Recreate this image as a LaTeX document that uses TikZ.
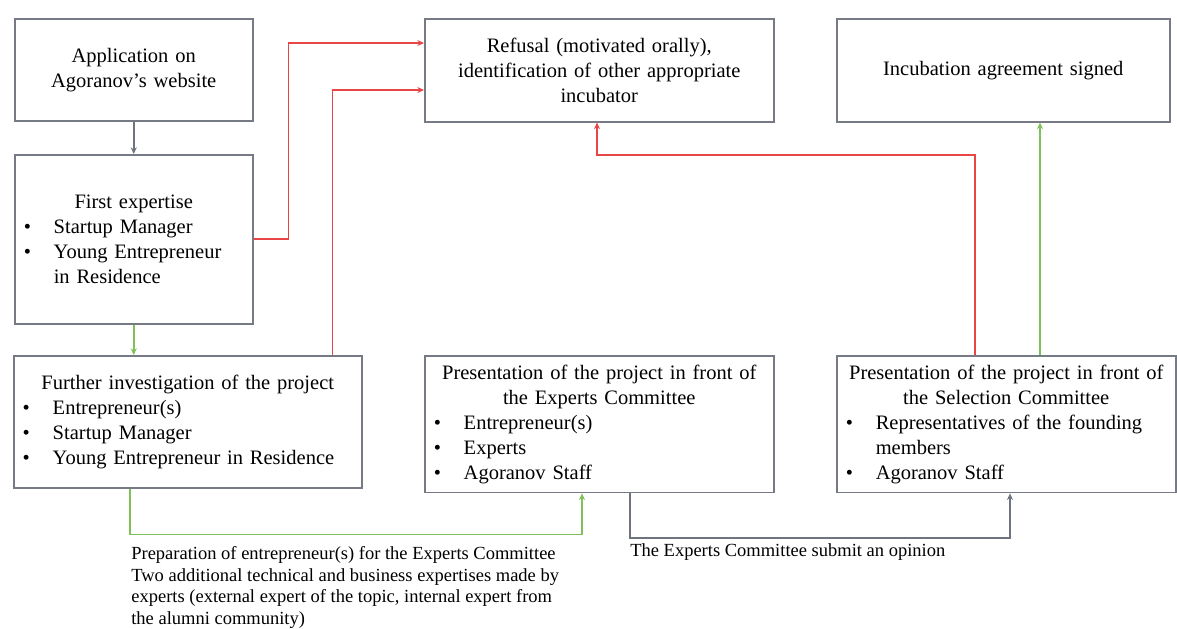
\documentclass[tikz,border=0pt]{standalone}
\usepackage{fontspec}
\setmainfont{Liberation Serif}
\usetikzlibrary{positioning,arrows.meta}

\definecolor{boxgray}{RGB}{118,122,132}
\definecolor{linkred}{RGB}{232,70,70}
\definecolor{linkgreen}{RGB}{128,192,88}
\definecolor{linkgray}{RGB}{112,116,126}

\newcommand{\bul}[1]{\makebox[\hsize][l]{\makebox[18pt][l]{\textbullet}#1}}
\newcommand{\cont}[1]{\makebox[\hsize][l]{\hspace*{18pt}#1}}

\begin{document}
\begin{tikzpicture}[x=0.6pt, y=-0.6pt,
	box/.style={draw=boxgray, line width=0.9pt, anchor=north west, align=center, inner sep=5.4pt, font=\fontsize{12.3}{15}\selectfont},
	note/.style={align=left, inner sep=0pt, font=\fontsize{11.1}{13}\selectfont},
	red link/.style={color=linkred, line width=1.1pt, -{Stealth[length=4pt,width=3.6pt]}},
	green link/.style={color=linkgreen, line width=1.1pt, -{Stealth[length=4pt,width=3.6pt]}},
	gray link/.style={color=linkgray, line width=1.1pt, -{Stealth[length=4pt,width=3.6pt]}}]
	\useasboundingbox (0,0) rectangle (1177,628);

	\node (application) [box, text width=132pt, minimum height=61.2pt] at (14,18)
	{Application on\\Agoranov's website};
	\node (expertise) [box, text width=132pt, minimum height=101.4pt] at (14,154)
	{
		First expertise\\
		\bul{Startup Manager}\\
		\bul{Young Entrepreneur}\\
		\cont{in Residence}
	};
	\node (investigation) [box, text width=198pt, minimum height=79.2pt] at (13,355)
	{
		Further investigation of the project\\
		\bul{Entrepreneur(s)}\\
		\bul{Startup Manager}\\
		\bul{Young Entrepreneur in Residence}
	};
	\node (refusal) [box, text width=198.6pt, minimum height=61.8pt] at (424,18)
	{Refusal (motivated orally),\\identification of other appropriate\\incubator};
	\node (agreement) [box, text width=189pt, minimum height=61.8pt] at (836,18)
	{Incubation agreement signed};
	\node (experts) [box, text width=198.6pt, minimum height=79.8pt] at (424,355)
	{
		Presentation of the project in front of\\
		the Experts Committee\\
		\bul{Entrepreneur(s)}\\
		\bul{Experts}\\
		\bul{Agoranov Staff}
	};
	\node (selection) [box, text width=192.6pt, minimum height=79.2pt] at (836,355)
	{
		Presentation of the project in front of\\
		the Selection Committee\\
		\bul{Representatives of the founding}\\
		\cont{members}\\
		\bul{Agoranov Staff}
	};

	\draw[gray link] (application.south) -- (expertise.north);
	\draw[green link] (expertise.south) -- (expertise.south |- investigation.north);
	\draw[red link] (expertise.east) -- ++(35,0) |- ([yshift=-15pt]refusal.north west);
	\draw[red link] ([xshift=-18pt]investigation.north east) |- ([yshift=-43.2pt]refusal.north west);
	\draw[red link] ([xshift=83.4pt]selection.north west) -- ++(0,-200) -| ([xshift=103.8pt]refusal.south west);
	\draw[green link] ([xshift=122.4pt]selection.north west) -- ([xshift=122.4pt]agreement.south west);
	\draw[green link] ([xshift=70.2pt]investigation.south west) -- ++(0,46) coordinate (prepcorner) -| ([xshift=94.8pt]experts.south west);
	\draw[gray link] ([xshift=123.6pt]experts.south west) -- ++(0,45) coordinate (opinioncorner) -| ([xshift=104.4pt]selection.south west);

	\node (preparation) [note, below right=7pt and 0.6pt of prepcorner]
	{
		Preparation of entrepreneur(s) for the Experts Committee\\
		Two additional technical and business expertises made by\\
		experts (external expert of the topic, internal expert from\\
		the alumni community)
	};
	\node (opinion) [note, below right=3pt and 0pt of opinioncorner]
	{The Experts Committee submit an opinion};
\end{tikzpicture}
\end{document}
